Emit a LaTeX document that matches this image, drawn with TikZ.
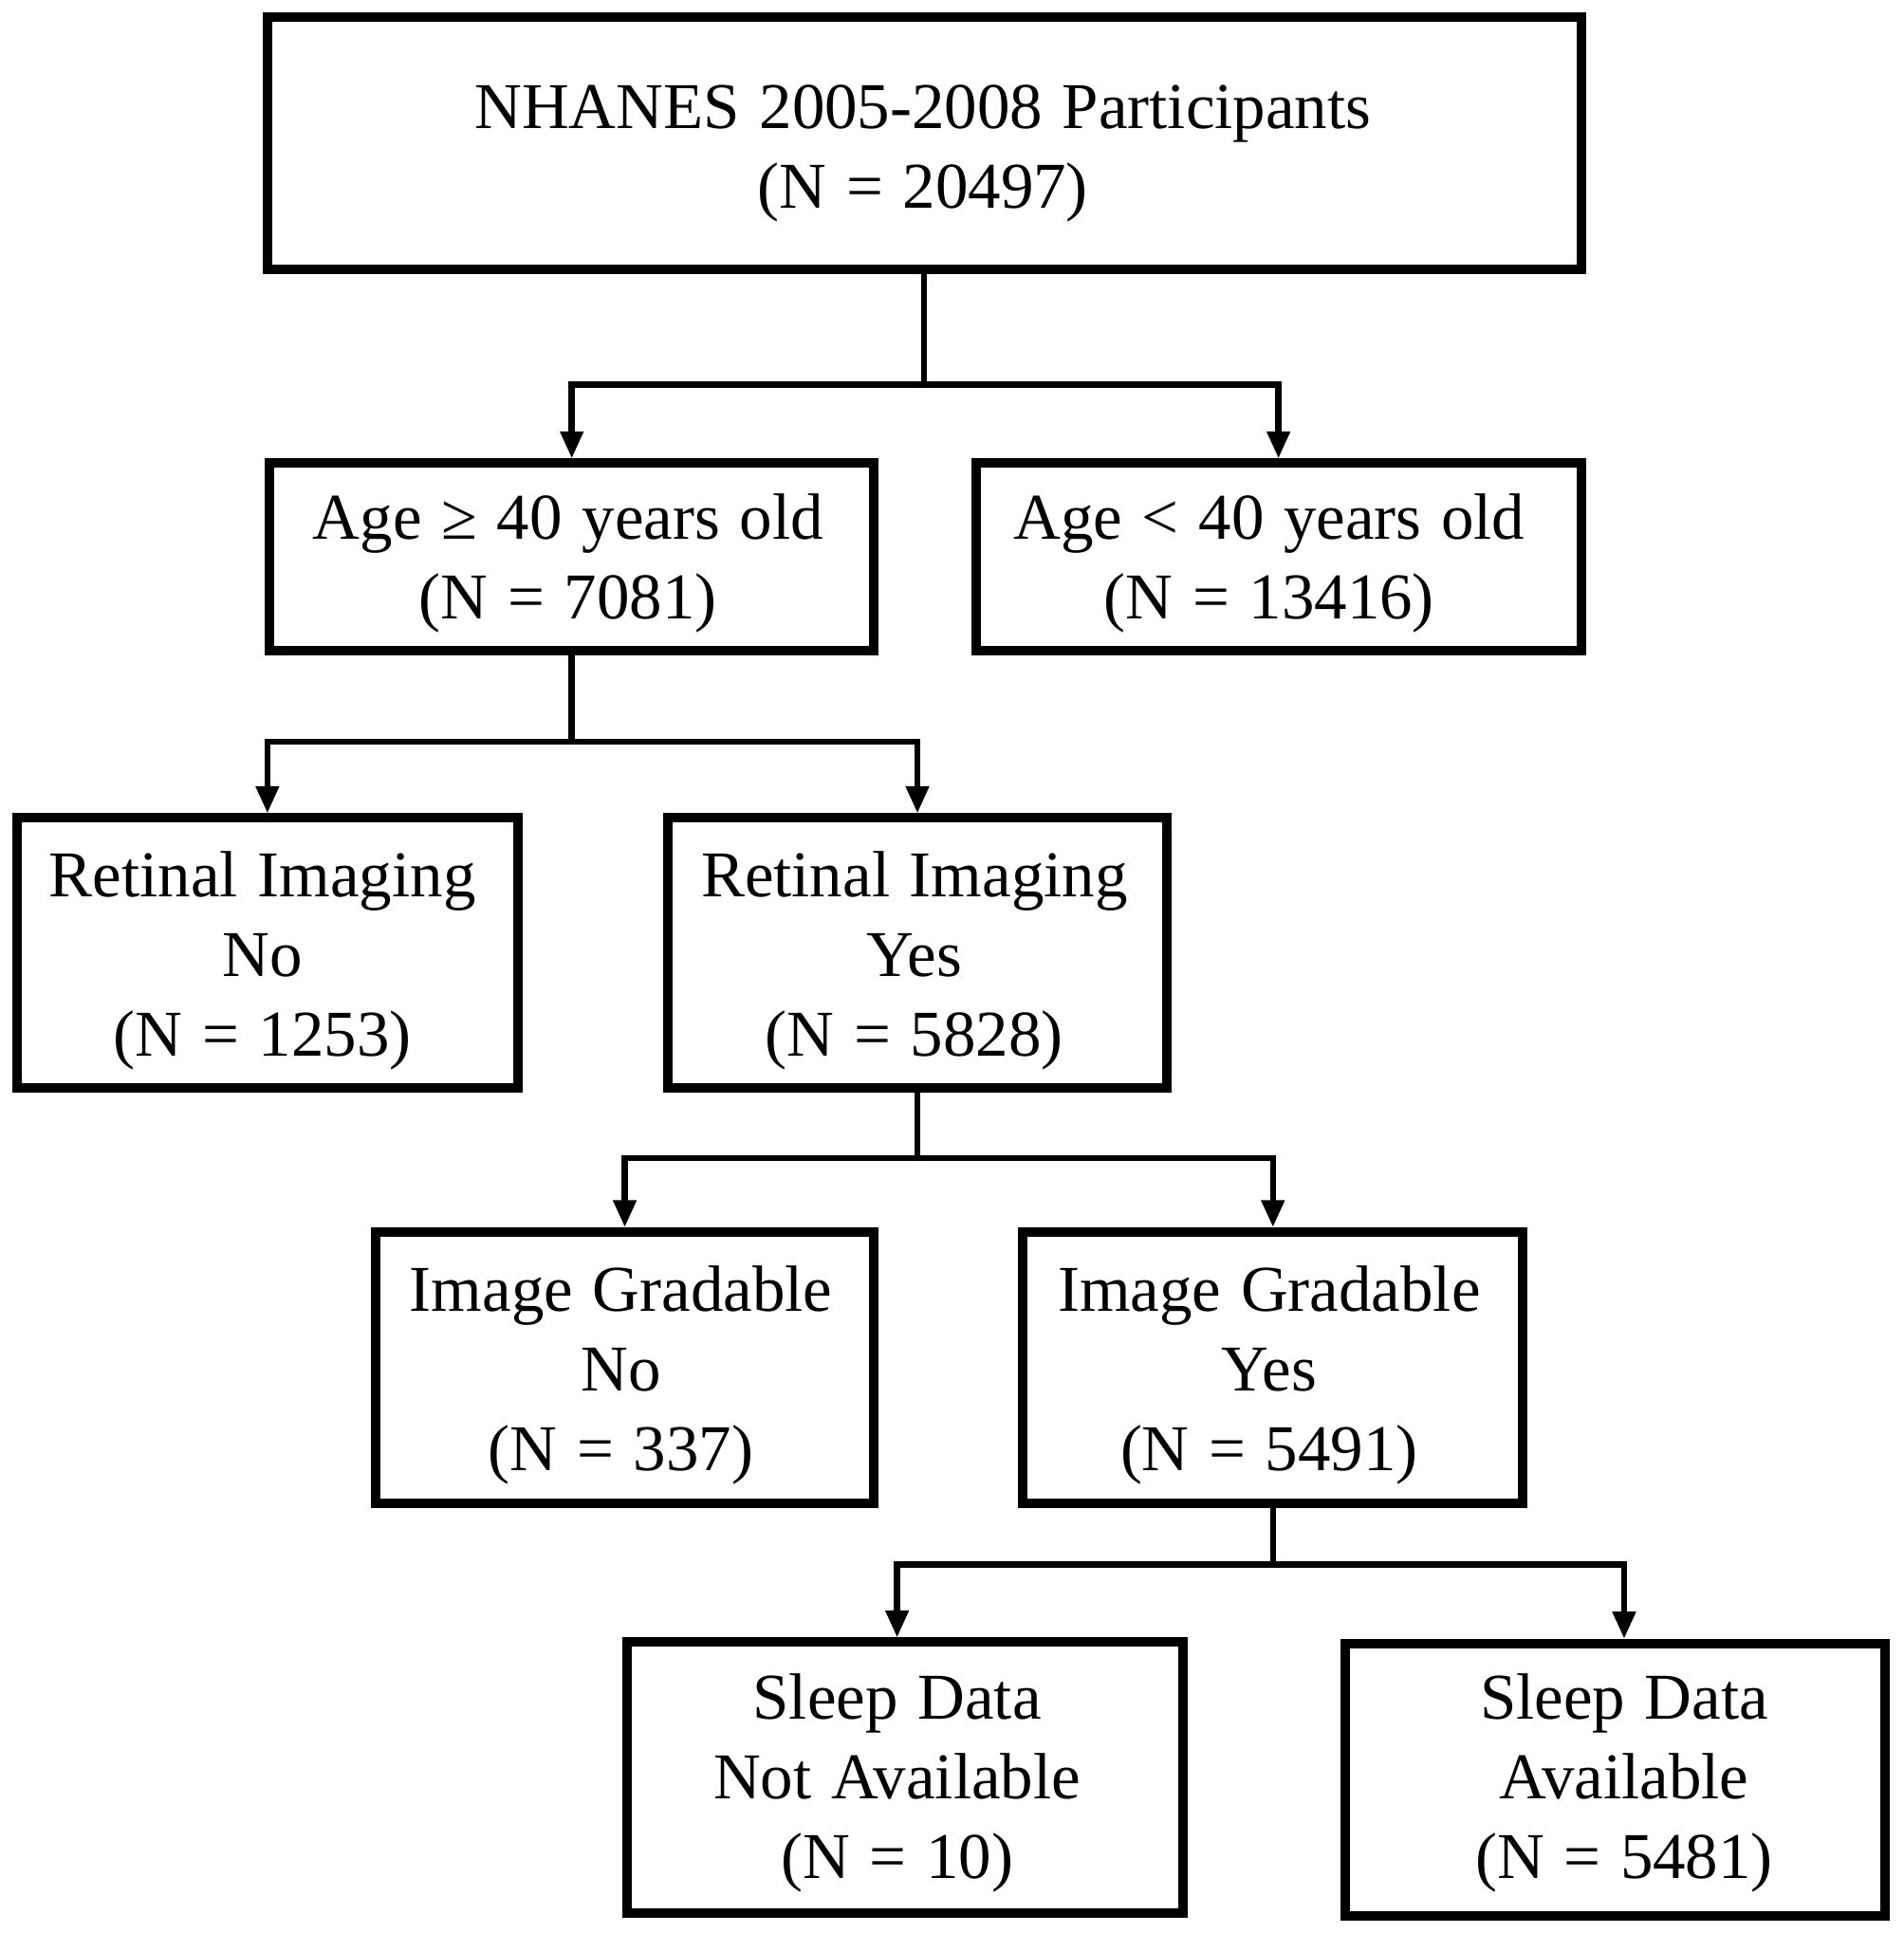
\documentclass[tikz,border=0pt]{standalone}
\usepackage{fontspec}
\setmainfont[WordSpace={1.2,1,1}]{Liberation Serif}
\usetikzlibrary{arrows.meta}
\begin{document}
\begin{tikzpicture}[x=0.1mm,y=-0.1mm,
  box/.style={draw,line width=0.77mm,inner sep=0pt},
  txt/.style={align=center,font=\fontsize{15.1}{18.4}\selectfont,inner sep=0pt},
  conn/.style={line width=0.5mm},
  arr/.style={conn,-{Triangle[length=2.2mm,width=1.8mm]}}]
\useasboundingbox[fill=white] (0,0) rectangle (1545,1569);

% boxes
\node[box,minimum width=106.6mm,minimum height=20.5mm] (top) at (750,116.5) {};
\node[box,minimum width=49mm,minimum height=15.2mm] (a1) at (464,452) {};
\node[box,minimum width=49.1mm,minimum height=15.2mm] (a2) at (1037.5,452) {};
\node[box,minimum width=40.6mm,minimum height=21.9mm] (r1) at (217,773.5) {};
\node[box,minimum width=40.5mm,minimum height=21.9mm] (r2) at (744.5,773.5) {};
\node[box,minimum width=40.4mm,minimum height=22mm] (g1) at (507,1110) {};
\node[box,minimum width=40.6mm,minimum height=22mm] (g2) at (1033,1110) {};
\node[box,minimum width=45.1mm,minimum height=22mm] (s1) at (734.5,1443) {};
\node[box,minimum width=43.8mm,minimum height=22.1mm] (s2) at (1311,1444.5) {};

% texts
\node[txt] (ttop) at (749,125) {NHANES 2005-2008 Participants\\(N = 20497)};
\node[txt] (ta1) at (461,457) {Age ≥ 40 years old\\(N = 7081)};
\node[txt] (ta2) at (1030,457) {Age < 40 years old\\(N = 13416)};
\node[txt] (tr1) at (213,779.5) {Retinal Imaging\\No\\(N = 1253)};
\node[txt] (tr2) at (742,779.5) {Retinal Imaging\\Yes\\(N = 5828)};
\node[txt] (tg1) at (504,1116.5) {Image Gradable\\No\\(N = 337)};
\node[txt] (tg2) at (1030,1116.5) {Image Gradable\\Yes\\(N = 5491)};
\node[txt] (ts1) at (728,1447.5) {Sleep Data\\Not Available\\(N = 10)};
\node[txt] (ts2) at (1318,1447.5) {Sleep Data\\Available\\(N = 5481)};

% connectors
\coordinate (j1) at (750,312);
\draw[conn] (top.south) -- (j1);
\draw[arr] (j1) -| (a1.north);
\draw[arr] (j1) -| (a2.north);

\coordinate (j2) at (464,602);
\draw[conn] (a1.south) -- (j2);
\draw[arr] (j2) -| (r1.north);
\draw[arr] (j2) -| (r2.north);

\coordinate (j3) at (744.5,940);
\draw[conn] (r2.south) -- (j3);
\draw[arr] (j3) -| (g1.north);
\draw[arr] (j3) -| (g2.north);

\coordinate (j4) at (1033,1270);
\draw[conn] (g2.south) -- (j4);
\draw[arr] (j4) -| ([xshift=-0.65mm]s1.north);
\draw[arr] (j4) -| ([xshift=0.7mm]s2.north);
\end{tikzpicture}
\end{document}
